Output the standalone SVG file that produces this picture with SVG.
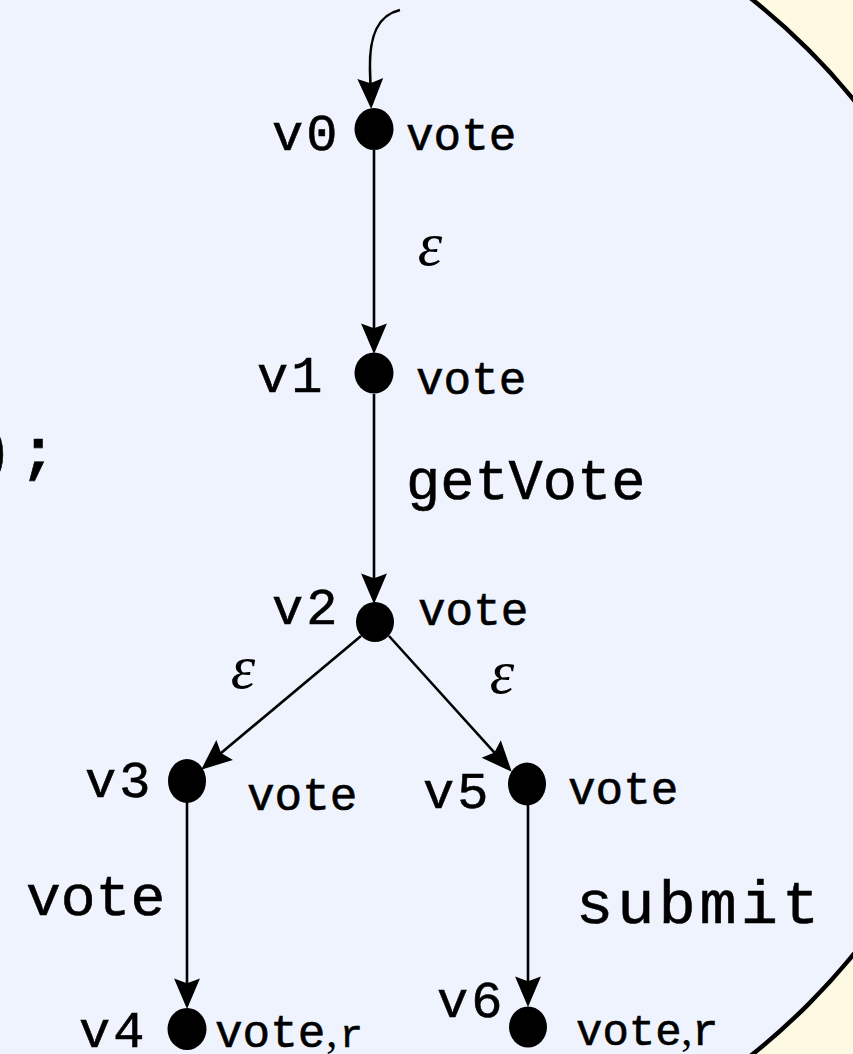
<svg xmlns="http://www.w3.org/2000/svg" width="853" height="1054" viewBox="0 0 853 1054">
  <defs>
    <style>
      .tt { font-family: "Liberation Mono", "DejaVu Sans Mono", monospace; fill: #000; stroke: #000; stroke-width: 0.6px; }
      .nm { font-size: 52px; letter-spacing: 3px; }
      .sm { font-size: 46px; }
      .lb { font-size: 58px; }
      .code { font-size: 60px; font-weight: bold; }
      .eps { font-family: "Liberation Serif", "DejaVu Serif", serif; font-style: italic; font-size: 62px; text-anchor: middle; fill: #000; }
      .cm { font-family: "Liberation Serif", "DejaVu Serif", serif; font-size: 46px; fill: #000; }
      .edge { fill: none; stroke: #000; stroke-width: 2.6; marker-end: url(#arrow); }
      .dot { fill: #000; }
    </style>
    <marker id="arrow" markerUnits="userSpaceOnUse" markerWidth="40" markerHeight="40" viewBox="-24 -14 34 28" refX="0" refY="0" orient="auto">
      <path d="M6,0 L-20,-11 L-16,0 L-20,11 Z" fill="#000"/>
    </marker>
  </defs>

  <!-- paper and the big rounded region -->
  <rect x="0" y="0" width="853" height="1054" fill="#fdf9e3"/>
  <circle cx="331" cy="527" r="675" fill="#eef3fd" stroke="#000" stroke-width="4.5"/>

  <!-- tail of a code line on the left -->
  <text class="tt code" x="-23" y="470">)</text>
  <text class="tt code" x="20" y="470">;</text>

  <!-- transitions -->
  <g id="connectors">
    <path class="edge" d="M400,10 C378,15 369,35 370,70 L371,102"/>
    <path class="edge" d="M374,150 L374,347"/>
    <path class="edge" d="M374,394 L374,597"/>
    <path class="edge" d="M361,636 L206.6,765.1"/>
    <path class="edge" d="M389,636 L507,766.5"/>
    <path class="edge" d="M187,802 L187,1002"/>
    <path class="edge" d="M528,805 L528,1000"/>

    <text class="eps" x="430" y="265">ε</text>
    <text class="tt lb" x="406" y="499" style="font-size:57px">getVote</text>
    <text class="eps" x="243" y="688">ε</text>
    <text class="eps" x="502" y="693">ε</text>
    <text class="tt lb" x="26" y="915">vote</text>
    <text class="tt lb" x="576" y="923" style="font-size:62px;letter-spacing:4px">submit</text>
  </g>

  <!-- states -->
  <g id="v0">
    <ellipse class="dot" cx="374" cy="129" rx="19.5" ry="21"/>
    <text class="tt nm" x="272" y="150">v0</text>
    <text class="tt sm" x="406" y="150">vote</text>
  </g>
  <g id="v1">
    <ellipse class="dot" cx="374" cy="373" rx="19.5" ry="20.5"/>
    <text class="tt nm" x="257" y="392">v1</text>
    <text class="tt sm" x="416" y="394">vote</text>
  </g>
  <g id="v2">
    <ellipse class="dot" cx="375" cy="622" rx="19" ry="20"/>
    <text class="tt nm" x="272" y="624">v2</text>
    <text class="tt sm" x="418" y="625">vote</text>
  </g>
  <g id="v3">
    <ellipse class="dot" cx="187" cy="781" rx="19" ry="22"/>
    <text class="tt nm" x="85" y="797">v3</text>
    <text class="tt sm" x="247" y="810">vote</text>
  </g>
  <g id="v5">
    <ellipse class="dot" cx="527" cy="784" rx="19" ry="21.5"/>
    <text class="tt nm" x="423" y="808">v5</text>
    <text class="tt sm" x="568" y="804">vote</text>
  </g>
  <g id="v4">
    <ellipse class="dot" cx="187" cy="1029" rx="19.5" ry="21"/>
    <text class="tt nm" x="79" y="1047">v4</text>
    <text class="tt sm" x="215" y="1047">vote</text>
    <text class="cm" x="326" y="1047">,</text>
    <text class="tt" x="340" y="1047" style="font-size:38px">r</text>
  </g>
  <g id="v6">
    <ellipse class="dot" cx="528" cy="1027" rx="19" ry="20.5"/>
    <text class="tt nm" x="437" y="1017">v6</text>
    <text class="tt sm" x="576" y="1045" style="font-size:44px">vote</text>
    <text class="cm" x="681" y="1045">,</text>
    <text class="tt sm" x="692" y="1045" style="font-size:44px">r</text>
  </g>
</svg>
